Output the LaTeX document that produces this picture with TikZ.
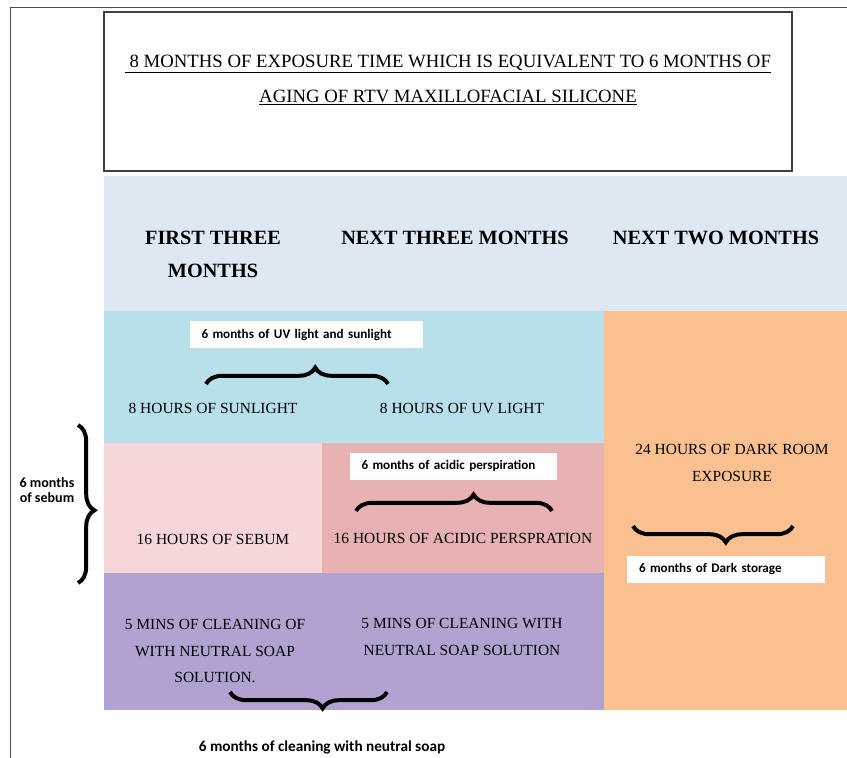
\documentclass[tikz,border=0pt]{standalone}
\usepackage{fontspec}
\setmainfont{Liberation Serif}
\newfontfamily\lblfont{Carlito}
\usetikzlibrary{decorations.pathreplacing}

\definecolor{hdrblue}{RGB}{221,232,243}
\definecolor{sunblue}{RGB}{183,224,234}
\definecolor{sebpink}{RGB}{247,214,217}
\definecolor{acidpink}{RGB}{233,178,178}
\definecolor{soappurple}{RGB}{178,162,209}
\definecolor{darkorange}{RGB}{251,192,143}

\begin{document}
\begin{tikzpicture}[x=0.3mm,y=-0.3mm,
    body/.style={font=\fontsize{13.2}{23}\selectfont, align=center, inner sep=0},
    head/.style={font=\bfseries\fontsize{17.3}{28}\selectfont, align=center, inner sep=0},
    lbl/.style={fill=white, font=\lblfont\bfseries\fontsize{11.2}{12.8}\selectfont, align=left,
        inner xsep=3.6mm, inner ysep=0, minimum height=8.1mm},
    brc/.style={decorate, decoration={brace, amplitude=14pt, aspect=0.6}, line width=3.4pt}]
\useasboundingbox (0,0) rectangle (847,758);
% page frame
\draw[black!70] (10,758) -- (10,7) -- (847,7);

% title box
\draw[line width=1.5pt, black!75] (104,12) rectangle (792,171);
\node[body, font=\fontsize{16}{30}\selectfont] (title) at (448,80)
    {\underline{\ 8 MONTHS OF EXPOSURE TIME WHICH IS EQUIVALENT TO 6 MONTHS OF}\\
     \underline{AGING OF RTV MAXILLOFACIAL SILICONE}};

% coloured cells
\fill[hdrblue] (104,176) rectangle (847,311);
\fill[sunblue] (104,311) rectangle (604,443);
\fill[sebpink] (104,443) rectangle (322,573);
\fill[acidpink] (322,443) rectangle (604,573);
\fill[soappurple] (104,573) rectangle (604,710);
\fill[darkorange] (604,311) rectangle (847,710);

% column heads
\node[head] (first) at (213,254) {FIRST THREE\\MONTHS};
\node[head] (next3) at (455,238) {NEXT THREE MONTHS};
\node[head] (next2) at (716,238) {NEXT TWO MONTHS};

% cell texts
\node[body] (sun) at (213,408) {8 HOURS OF SUNLIGHT};
\node[body] (uv) at (462,408) {8 HOURS OF UV LIGHT};
\node[body] (sebum) at (213,539) {16 HOURS OF SEBUM};
\node[body] (acid) at (463,538) {16 HOURS OF ACIDIC PERSPRATION};
\node[body] (clean1) at (215,651) {5 MINS OF CLEANING OF\\WITH NEUTRAL SOAP\\SOLUTION.};
\node[body] (clean2) at (462,637) {5 MINS OF CLEANING WITH\\NEUTRAL SOAP SOLUTION};
\node[body] (dark) at (732,463) {24 HOURS OF DARK ROOM\\EXPOSURE};

% small labels
\node[lbl, text width=62.7mm] (uvlbl) at (306,335) {6 months of UV light and sunlight};
\node[lbl, text width=54.9mm] (acidlbl) at (453,466) {6 months of acidic perspiration};
\node[lbl, text width=52.2mm] (darklbl) at (726,569) {6 months of Dark storage};
\node[lbl, fill=none, align=center, inner xsep=0, font=\lblfont\bfseries\fontsize{13}{15}\selectfont] (cleanlbl) at (322,747) {6 months of cleaning with neutral soap};
\node[lbl, fill=none, align=center, inner xsep=0, font=\lblfont\bfseries\fontsize{12}{12.8}\selectfont] (seblbl) at (47,490) {6 months\\of sebum};

% braces
\coordinate (uvA) at (206,384);
\coordinate (uvB) at (388,384);
\coordinate (acA) at (356,511);
\coordinate (acB) at (552,511);
\coordinate (dkA) at (633,526);
\coordinate (dkB) at (793,526);
\coordinate (clA) at (230,692);
\coordinate (clB) at (387,692);
\coordinate (sbA) at (78,425);
\coordinate (sbB) at (78,583);
\draw[brc] (uvA) -- (uvB);
\draw[brc] (acA) -- (acB);
\draw[brc, decoration={mirror, aspect=0.58}] (dkA) -- (dkB);
\draw[brc, decoration={mirror, aspect=0.59}] (clA) -- (clB);
\draw[brc, decoration={aspect=0.54}] (sbA) -- (sbB);
\end{tikzpicture}
\end{document}
